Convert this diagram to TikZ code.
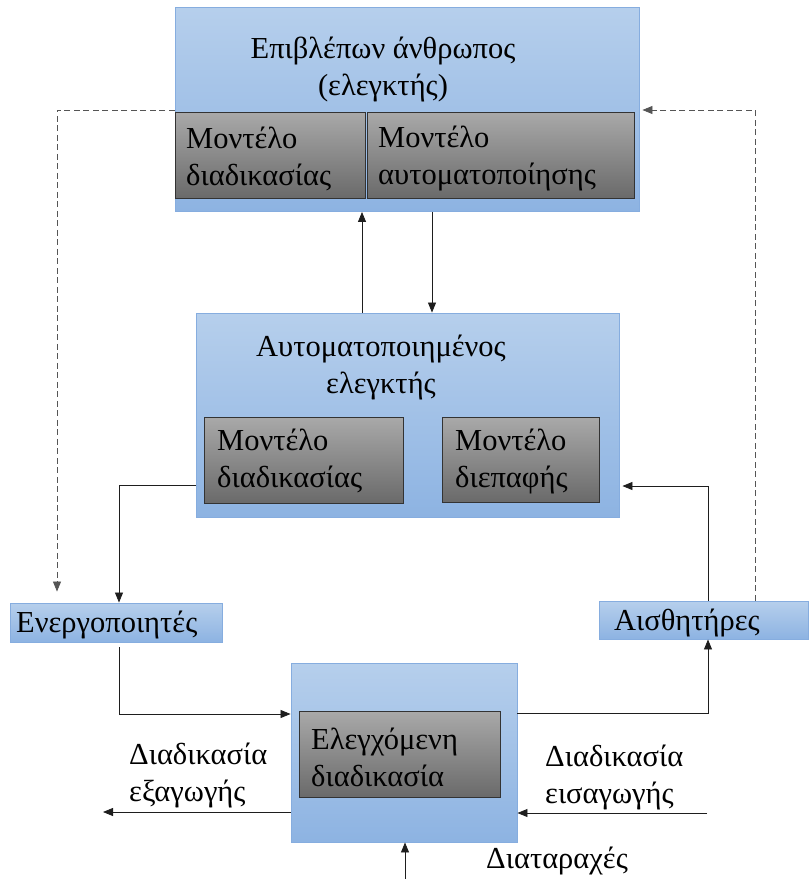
\documentclass[tikz,border=0pt]{standalone}
\usepackage{fontspec}
\setmainfont{Liberation Serif}
\usetikzlibrary{arrows.meta,calc}

\definecolor{bluetop}{HTML}{B6CFEC}
\definecolor{bluebot}{HTML}{8DB3E2}
\definecolor{blueedge}{HTML}{86ADDF}
\definecolor{greytop}{HTML}{A9A9A9}
\definecolor{greybot}{HTML}{6A6A6A}
\definecolor{greyedge}{HTML}{333333}
\definecolor{lineclr}{HTML}{1E1E1E}
\definecolor{dashclr}{HTML}{555555}

\begin{document}
\begin{tikzpicture}[x=1pt,y=-1pt,
  font=\fontsize{30.5}{37}\selectfont,
  bluebox/.style={draw=blueedge,line width=0.9pt,top color=bluetop,bottom color=bluebot,inner sep=0pt},
  greybox/.style={draw=greyedge,line width=0.9pt,top color=greytop,bottom color=greybot,inner sep=0pt},
  txt/.style={align=left,inner sep=0pt,anchor=west},
  ctxt/.style={align=center,inner sep=0pt},
  flow/.style={draw=lineclr,line width=0.8pt,-{Triangle[length=10pt,width=8pt]}},
  signal/.style={flow,draw=dashclr,dash pattern=on 6pt off 3.5pt}
]
\useasboundingbox (0,0) rectangle (810,879);

% supervisor block
\node[bluebox,minimum width=464pt,minimum height=204pt] (sup) at (407,109.5) {};
\node[greybox,minimum width=190pt,minimum height=86pt] (supproc) at (270,155) {};
\node[greybox,minimum width=267pt,minimum height=86pt] (supauto) at (500.5,155) {};
\node[ctxt] (suptxt) at (383,69) {Επιβλέπων άνθρωπος\\(ελεγκτής)};
\node[txt] (supproctxt) at (186,159) {Μοντέλο\\διαδικασίας};
\node[txt] (supautotxt) at (378,159) {Μοντέλο\\αυτοματοποίησης};

% automated controller block
\node[bluebox,minimum width=423pt,minimum height=204pt] (ctl) at (407.5,415) {};
\node[greybox,minimum width=199pt,minimum height=86pt] (ctlproc) at (303.5,460) {};
\node[greybox,minimum width=157pt,minimum height=85pt] (ctlif) at (520.5,459.5) {};
\node[ctxt] (ctltxt) at (381,367) {Αυτοματοποιημένος\\ελεγκτής};
\node[txt] (ctlproctxt) at (217,461) {Μοντέλο\\διαδικασίας};
\node[txt] (ctliftxt) at (455,461) {Μοντέλο\\διεπαφής};

% actuators and sensors
\node[bluebox,minimum width=212pt,minimum height=39pt] (act) at (116,622.5) {};
\node[txt] (acttxt) at (16,625) {Ενεργοποιητές};
\node[bluebox,minimum width=209pt,minimum height=38pt] (sens) at (703.5,620) {};
\node[txt] (senstxt) at (614,623) {Αισθητήρες};

% controlled process
\node[bluebox,minimum width=226pt,minimum height=179pt] (plant) at (404,752.5) {};
\node[greybox,minimum width=201pt,minimum height=86pt] (plantin) at (399.5,754) {};
\node[txt] (planttxt) at (311,757) {Ελεγχόμενη\\διαδικασία};

% free labels
\node[txt] (outtxt) at (129,775) {Διαδικασία\\εξαγωγής};
\node[txt] (intxt) at (545,777) {Διαδικασία\\εισαγωγής};
\node[txt] (disttxt) at (486,861) {Διαταραχές};

% free ends
\coordinate (outend) at (103,812);
\coordinate (instart) at (707,813);
\coordinate (diststart) at (405,879);

% supervisor <-> controller
\draw[flow] ([xshift=-45.5pt]ctl.north) -- ([xshift=-45.5pt]ctl.north |- sup.south);
\draw[flow] ([xshift=25pt]sup.south) -- ([xshift=25pt]sup.south |- ctl.north);

% supervisor manual path
\draw[signal,shorten >=11pt] (sup.west |- 0,110) -| (57,0 |- act.north);
\draw[signal,shorten >=3pt] (755,0 |- sens.north) |- (sup.east |- 0,110);

% automatic loop
\draw[flow] (ctl.west |- 0,485) -| (119,0 |- act.north);
\draw[flow,shorten <=5pt] (119,0 |- act.south) |- (plant.west |- 0,714);
\draw[flow] (plant.east |- 0,713) -| (708,0 |- sens.south);
\draw[flow,shorten >=3pt] (708,0 |- sens.north) |- (ctl.east |- 0,486);

% process inputs and outputs
\draw[flow] (plant.west |- outend) -- (outend);
\draw[flow] (instart) -- (plant.east |- instart);
\draw[flow] (diststart) -- (plant.south -| diststart);
\end{tikzpicture}
\end{document}
